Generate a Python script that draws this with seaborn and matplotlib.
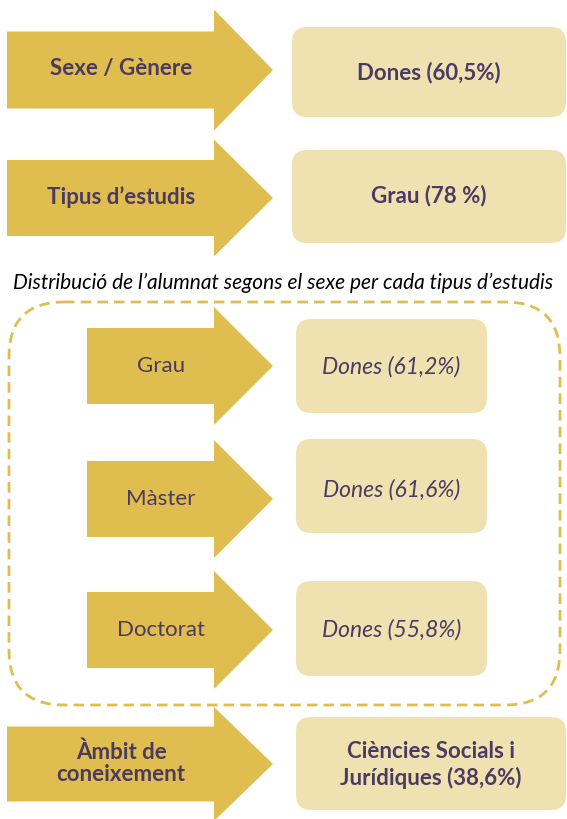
import matplotlib.pyplot as plt
from matplotlib.patches import Polygon, FancyBboxPatch
import seaborn as sns

# dades de la infografia
top_labels = ["Sexe / Gènere", "Tipus d’estudis", "Àmbit de\nconeixement"]
top_results = ["Dones", "Grau", "Ciències Socials i\nJurídiques"]
top_pct = ["60,5%", "78 %", "38,6%"]

study_types = ["Grau", "Màster", "Doctorat"]
women_pct = ["61,2%", "61,6%", "55,8%"]

caption = "Distribució de l’alumnat segons el sexe per cada tipus d’estudis"

gold = "#E0BD4F"
light = "#F0E2B0"
purple = "#4B3A62"

sns.set_theme(style="white")
plt.rcParams['font.family'] = ['Lato', 'DejaVu Sans']

fig = plt.figure(figsize=(5.67, 8.19), dpi=100)
ax = fig.add_axes([0, 0, 1, 1])
ax.set_xlim(0, 567)
ax.set_ylim(819, 0)
ax.axis('off')


def arrow(x0, xs, xt, yc, body_h, head_h):
    pts = [(x0, yc - body_h / 2), (xs, yc - body_h / 2), (xs, yc - head_h / 2),
           (xt, yc), (xs, yc + head_h / 2), (xs, yc + body_h / 2), (x0, yc + body_h / 2)]
    ax.add_patch(Polygon(pts, closed=True, facecolor=gold, edgecolor='none'))


def box(x0, x1, y0, y1, r=15):
    ax.add_patch(FancyBboxPatch((x0 + r, y0 + r), x1 - x0 - 2 * r, y1 - y0 - 2 * r,
                                boxstyle=f"round,pad={r}", facecolor=light, edgecolor='none'))


# blocs superiors i inferior
top_rows = [
    dict(yc=70, body=77, head=121, box=(292, 566, 27, 117), ty=73, ls=1.0),
    dict(yc=198, body=76, head=117, box=(292, 566, 150, 243), ty=196, ls=1.0),
    dict(yc=764, body=75, head=114, box=(296, 566, 717, 810), ty=765, ls=1.25),
]
for row, lab, res, pct in zip(top_rows, top_labels, top_results, top_pct):
    arrow(7, 214, 273, row['yc'], row['body'], row['head'])
    ax.text(121, row['yc'] - 1, lab, ha='center', va='center', fontsize=16,
            fontweight='bold', color=purple, linespacing=1.05)
    box(*row['box'])
    bx = (row['box'][0] + row['box'][1]) / 2
    ax.text(bx, row['ty'], f"{res} ({pct})", ha='center', va='center', fontsize=16,
            fontweight='bold', color=purple, linespacing=row['ls'])

ax.text(283, 283, caption, ha='center', va='center', fontsize=15,
        style='italic', color='black')

# marc discontinu
r = 55
frame = FancyBboxPatch((9 + r, 302 + r), 551 - 2 * r, 403 - 2 * r,
                       boxstyle=f"round,pad={r}", facecolor='none', edgecolor=gold,
                       linewidth=2, linestyle=(0, (3.8, 2.2)))
ax.add_patch(frame)

mid_rows = [
    dict(yc=366, box=(296, 487, 319, 413), ty=367),
    dict(yc=499, box=(296, 487, 439, 533), ty=490),
    dict(yc=630, box=(296, 487, 581, 676), ty=630),
]
for row, lab, pct in zip(mid_rows, study_types, women_pct):
    arrow(87, 214, 273, row['yc'], 76, 118)
    ax.text(161, row['yc'], lab, ha='center', va='center', fontsize=16, color=purple)
    box(*row['box'])
    bx = (row['box'][0] + row['box'][1]) / 2
    ax.text(bx, row['ty'], f"Dones ({pct})", ha='center', va='center', fontsize=16.5,
            style='italic', color=purple)

fig.savefig('out.png', dpi=100)
